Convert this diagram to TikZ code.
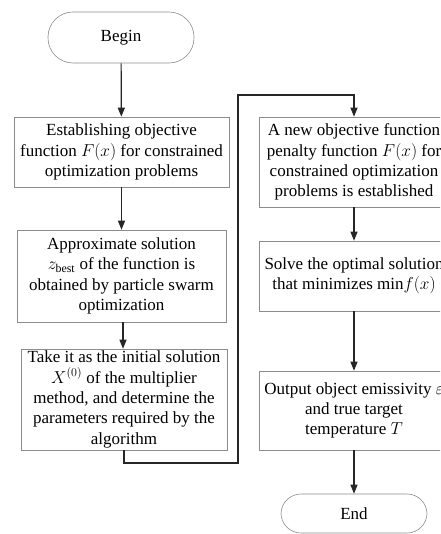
\documentclass[tikz,border=0pt]{standalone}
\usepackage{fontspec}
\setmainfont{Liberation Serif}
\usetikzlibrary{arrows.meta}
\begin{document}
\begin{tikzpicture}[x=1pt,y=-1pt,
  box/.style={draw=black!45, line width=0.6pt, fill=white, align=center, font=\fontsize{17}{20.3}\selectfont, inner sep=0pt},
  term/.style={box, rounded corners=20pt},
  conn/.style={draw=black!85, line width=1.2pt},
  arr/.style={conn, -{Triangle[length=9pt,width=7pt]}}]
\useasboundingbox (0,0) rectangle (440,534);
\clip (0,0) rectangle (440,534);
\fill[white] (0,0) rectangle (440,534);
\node[term, rounded corners=25pt, minimum width=146pt, minimum height=51pt] (begin) at (121,37.5) {Begin};
\node[box, minimum width=215pt, minimum height=70pt] (b1) at (121.5,152) {Establishing objective\\function $F(x)$ for constrained\\optimization problems};
\node[box, minimum width=209pt, minimum height=92pt] (b2) at (121.5,276) {Approximate solution\\$z_{\mathrm{best}}$ of the function is\\obtained by particle swarm\\optimization};
\node[box, minimum width=206pt, minimum height=101pt] (b3) at (124,399.5) {Take it as the initial solution\\$X^{(0)}$ of the multiplier\\method, and determine the\\parameters required by the\\algorithm};
\node[box, minimum width=190pt, minimum height=90pt] (b4) at (354,162) {A new objective function\\penalty function $F(x)$ for\\constrained optimization\\problems is established};
\node[box, minimum width=190pt, minimum height=70pt] (b5) at (354,276) {Solve the optimal solution\\that minimizes min$f(x)$};
\node[box, minimum width=190pt, minimum height=79pt] (b6) at (354,410.5) {Output object emissivity $\varepsilon$\\and true target\\temperature $T$};
\node[term, minimum width=146pt, minimum height=39pt] (end) at (354,513.5) {End};
\coordinate (c1) at (238,463);
\coordinate (c2) at (238,95);
\draw[arr] (begin) -- (b1);
\draw[arr] (b1) -- (b2);
\draw[arr] (b2.south -| 123,0) -- (b3.north -| 123,0);
\draw[arr] (b3.south) |- (c1) -- (c2) -| (b4.north);
\draw[arr] (b4) -- (b5);
\draw[arr] (b5) -- (b6);
\draw[arr] (b6) -- (end);
\end{tikzpicture}
\end{document}
